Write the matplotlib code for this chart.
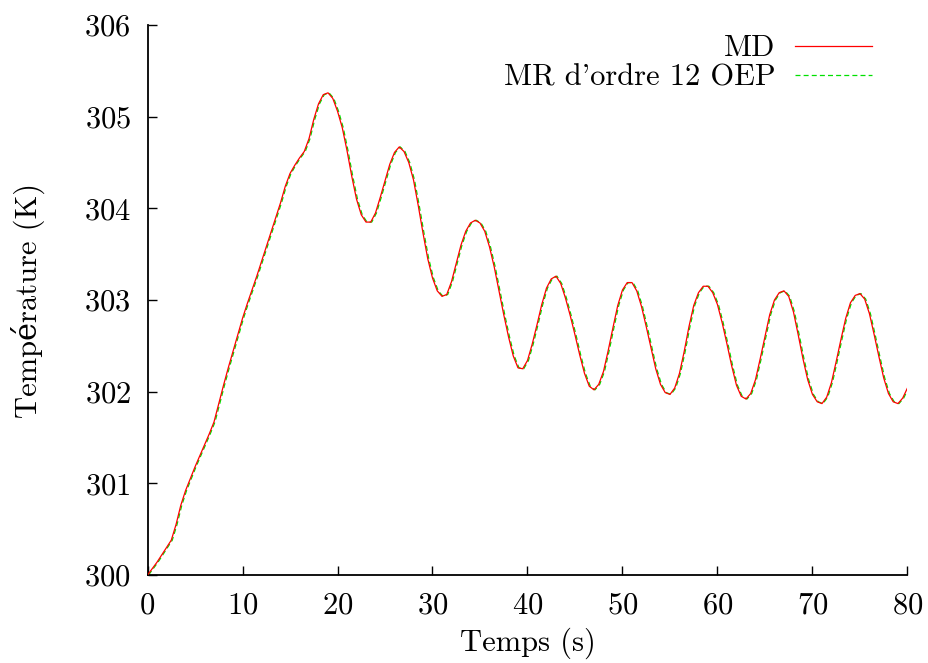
import numpy as np
import matplotlib
matplotlib.use('Agg')
import matplotlib.pyplot as plt
import matplotlib.transforms as mtransforms

# temps (s), pas de 0.5 s
temps = np.arange(0, 80.5, 0.5)

temp_md = [
    300.00, 300.07, 300.14, 300.22, 300.30, 300.38, 300.55, 300.76, 300.92, 301.05,
    301.18, 301.30, 301.42, 301.54, 301.67, 301.87, 302.07, 302.26, 302.44, 302.62,
    302.80, 302.96, 303.11, 303.26, 303.42, 303.58, 303.74, 303.90, 304.06, 304.24,
    304.38, 304.47, 304.55, 304.62, 304.76, 304.97, 305.14, 305.24, 305.26, 305.20,
    305.06, 304.88, 304.63, 304.35, 304.10, 303.93, 303.85, 303.85, 303.95, 304.12,
    304.30, 304.48, 304.61, 304.67, 304.62, 304.50, 304.31, 304.03, 303.73, 303.45,
    303.24, 303.10, 303.04, 303.06, 303.20, 303.40, 303.60, 303.75, 303.84, 303.87,
    303.84, 303.75, 303.58, 303.36, 303.10, 302.84, 302.60, 302.39, 302.26, 302.25,
    302.34, 302.52, 302.73, 302.95, 303.13, 303.23, 303.26, 303.18, 303.02, 302.83,
    302.62, 302.40, 302.20, 302.06, 302.02, 302.08, 302.22, 302.45, 302.70, 302.94,
    303.11, 303.19, 303.19, 303.10, 302.93, 302.71, 302.48, 302.25, 302.08, 301.99,
    301.97, 302.04, 302.20, 302.44, 302.71, 302.94, 303.08, 303.15, 303.15, 303.08,
    302.95, 302.75, 302.52, 302.28, 302.07, 301.95, 301.92, 301.98, 302.13, 302.36,
    302.60, 302.84, 303.00, 303.08, 303.10, 303.04, 302.87, 302.62, 302.36, 302.13,
    301.97, 301.89, 301.87, 301.94, 302.10, 302.33, 302.57, 302.80, 302.97, 303.05,
    303.07, 303.01, 302.85, 302.62, 302.38, 302.15, 301.98, 301.89, 301.87, 301.93,
    302.04,
]
# MR d'ordre 12 OEP : confondue avec MD a l'echelle du graphe
temp_oep = list(temp_md)

plt.rcParams['font.family'] = ['cmr10', 'DejaVu Serif']
plt.rcParams['font.size'] = 22
plt.rcParams['axes.formatter.use_mathtext'] = True

fig = plt.figure(figsize=(9.29, 6.63), dpi=100)
ax = fig.add_axes([0.1588, 0.1327, 0.818, 0.8296])

# le vert est legerement decale (1 px) sous le rouge
shift = ax.transData + mtransforms.ScaledTranslation(1 / 100, 0, fig.dpi_scale_trans)
l_oep, = ax.plot(temps, temp_oep, color='#00e000', lw=0.9, dashes=(4, 2.5),
                 transform=shift, zorder=2)
l_md, = ax.plot(temps, temp_md, color='#ff0000', lw=0.9, zorder=3)

ax.set_xlim(0, 80)
ax.set_ylim(300, 306)
ax.set_xticks(range(0, 81, 10))
ax.set_yticks(range(300, 307))
ax.spines['top'].set_visible(False)
ax.spines['right'].set_visible(False)
ax.spines['left'].set_linewidth(1.3)
ax.spines['bottom'].set_linewidth(1.3)
ax.tick_params(direction='in', length=6.5, width=1, pad=12)

ax.set_xlabel('Temps (s)', labelpad=6)
ax.set_ylabel('Température (K)', labelpad=28)

ax.legend([l_md, l_oep], ['MD', "MR d'ordre 12 OEP"], loc='upper right',
          bbox_to_anchor=(0.953, 0.982), frameon=False, markerfirst=False,
          handlelength=2.5, handletextpad=0.65, labelspacing=0.07,
          borderpad=0, borderaxespad=0)

fig.savefig('out.png', dpi=100)
